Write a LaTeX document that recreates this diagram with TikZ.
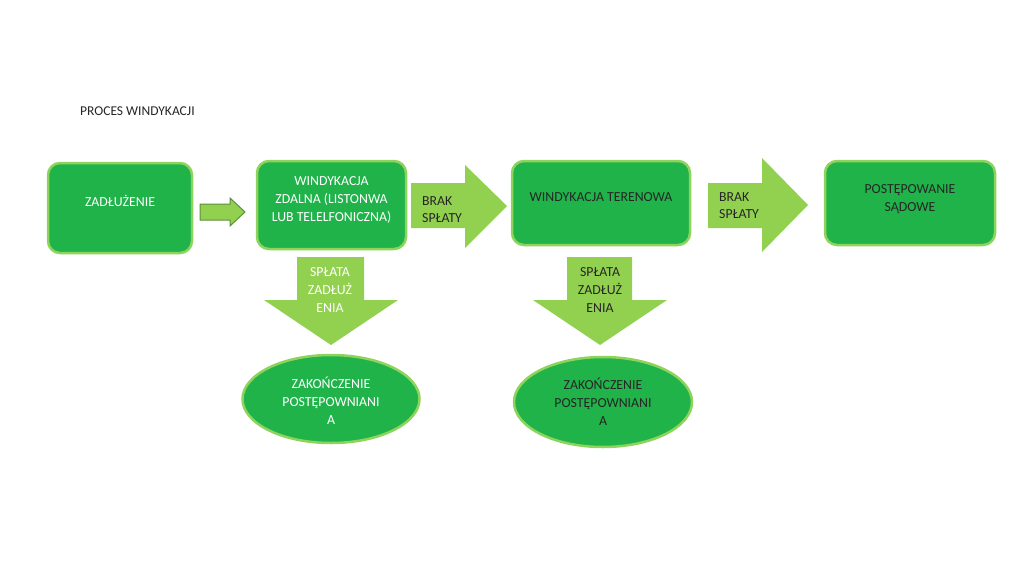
\documentclass[tikz,border=0pt]{standalone}
\usepackage{fontspec}
\setmainfont{Carlito}
\usetikzlibrary{shapes.geometric}
\definecolor{boxgreen}{HTML}{1FB34A}
\definecolor{edgegreen}{HTML}{8ED35C}
\definecolor{arrowgreen}{HTML}{92D050}
\definecolor{arrowedge}{HTML}{5E8E3E}
\definecolor{darktext}{HTML}{262626}
\tikzset{
  box/.style={draw=edgegreen, line width=2.5pt, fill=boxgreen, rounded corners=12pt},
  oval/.style={ellipse, draw=edgegreen, line width=2.5pt, fill=boxgreen},
  blockarrow/.style={fill=arrowgreen},
  smallarrow/.style={fill=arrowgreen, draw=arrowedge, line width=1pt, line join=miter},
  lbl/.style={font=\fontsize{13.8}{18}\selectfont, align=center, inner sep=0pt},
  lblleft/.style={font=\fontsize{13.8}{17}\selectfont, align=left, inner sep=0pt, anchor=west},
}
\begin{document}
\begin{tikzpicture}[x=1pt,y=-1pt]
\useasboundingbox[fill=white] (0,0) rectangle (1024,570);

% title
\node[anchor=west, inner sep=0pt, text=darktext, font=\fontsize{13.5}{16}\selectfont] (title) at (80,111) {PROCES WINDYKACJI};

% main boxes
\node[box, minimum width=144pt, minimum height=90pt] (b1) at (120,208) {};
\node[lbl, text=white] (t1) at (120,201) {ZADŁUŻENIE};

\node[box, minimum width=149pt, minimum height=88pt] (b2) at (331.5,205) {};
\node[lbl, text=white] (t2) at (331.5,200) {WINDYKACJA\\ZDALNA (LISTONWA\\LUB TELELFONICZNA)};

\node[box, minimum width=178pt, minimum height=84pt] (b3) at (601,203) {};
\node[lbl, text=darktext] (t3) at (601,197) {WINDYKACJA TERENOWA};

\node[box, minimum width=170pt, minimum height=84pt] (b4) at (910,203) {};
\node[lbl, text=darktext] (t4) at (910,199) {POSTĘPOWANIE\\SĄDOWE};

% small arrow between b1 and b2
\draw[smallarrow] (200,204) -- (230,204) -- (230,198) -- (245,212) -- (230,226) -- (230,220) -- (200,220) -- cycle;

% BRAK SPŁATY arrows
\fill[blockarrow] (411,183) -- (465,183) -- (465,165) -- (507,206) -- (465,248) -- (465,228) -- (411,228) -- cycle;
\node[lblleft, text=darktext] (a1) at (422,209.5) {BRAK\\SPŁATY};

\fill[blockarrow] (708,183) -- (762,183) -- (762,158) -- (808,205) -- (762,252) -- (762,228) -- (708,228) -- cycle;
\node[lblleft, text=darktext] (a2) at (719,206) {BRAK\\SPŁATY};

% down arrows
\fill[blockarrow] (297,257) -- (364,257) -- (364,300) -- (398,300) -- (331,345) -- (264,300) -- (297,300) -- cycle;
\node[lbl, text=white] (d1) at (330,290) {SPŁATA\\ZADŁUŻ\\ENIA};

\fill[blockarrow] (567,257) -- (632,257) -- (632,300) -- (667,300) -- (600,345) -- (533,300) -- (567,300) -- cycle;
\node[lbl, text=darktext] (d2) at (600,290) {SPŁATA\\ZADŁUŻ\\ENIA};

% end ovals
\node[oval, minimum width=177pt, minimum height=88pt] (e1) at (331,399) {};
\node[lbl, text=white] (et1) at (331,401) {ZAKOŃCZENIE\\POSTĘPOWNIANI\\A};

\node[oval, minimum width=178pt, minimum height=90pt] (e2) at (603,402) {};
\node[lbl, text=darktext] (et2) at (603,402) {ZAKOŃCZENIE\\POSTĘPOWNIANI\\A};
\end{tikzpicture}
\end{document}
